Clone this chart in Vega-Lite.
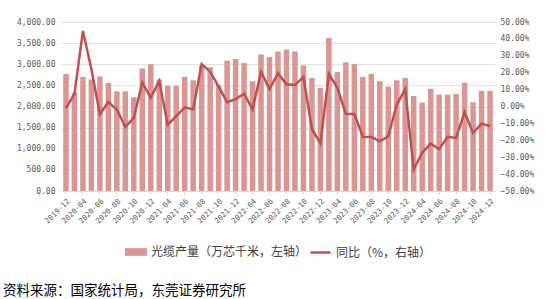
{
  "$schema": "https://vega.github.io/schema/vega-lite/v6.json",
  "width": 434,
  "height": 169,
  "autosize": {"type": "none"},
  "padding": {"left": 61, "top": 22, "right": 59, "bottom": 108},
  "background": "white",
  "config": {"view": {"stroke": null}, "font": "DejaVu Sans Mono"},
  "title": {
    "text": "资料来源：国家统计局，东莞证券研究所",
    "orient": "bottom",
    "anchor": "start",
    "frame": "group",
    "font": "Noto Sans CJK SC",
    "fontSize": 13.5,
    "fontWeight": "normal",
    "color": "#000000",
    "dx": -58,
    "offset": 25
  },
  "data": {
    "values": [
      {"month": "2019-12", "output": 2770, "yoy": -1.0},
      {"month": "2020-03", "output": 2330, "yoy": 7.4},
      {"month": "2020-04", "output": 2700, "yoy": 44.7},
      {"month": "2020-05", "output": 2640, "yoy": 22.0},
      {"month": "2020-06", "output": 2710, "yoy": -4.6},
      {"month": "2020-07", "output": 2560, "yoy": 2.7},
      {"month": "2020-08", "output": 2360, "yoy": -1.9},
      {"month": "2020-09", "output": 2360, "yoy": -12.0},
      {"month": "2020-10", "output": 2220, "yoy": -6.8},
      {"month": "2020-11", "output": 2900, "yoy": 14.2},
      {"month": "2020-12", "output": 3000, "yoy": 5.1},
      {"month": "2021-03", "output": 2640, "yoy": 15.1},
      {"month": "2021-04", "output": 2490, "yoy": -10.9},
      {"month": "2021-05", "output": 2490, "yoy": -5.7},
      {"month": "2021-06", "output": 2700, "yoy": -0.5},
      {"month": "2021-07", "output": 2620, "yoy": -1.7},
      {"month": "2021-08", "output": 2970, "yoy": 25.1},
      {"month": "2021-09", "output": 2930, "yoy": 20.6},
      {"month": "2021-10", "output": 2510, "yoy": 11.7},
      {"month": "2021-11", "output": 3085, "yoy": 2.5},
      {"month": "2021-12", "output": 3125, "yoy": 4.4},
      {"month": "2022-03", "output": 3030, "yoy": 7.6},
      {"month": "2022-04", "output": 2600, "yoy": -1.7},
      {"month": "2022-05", "output": 3230, "yoy": 20.6},
      {"month": "2022-06", "output": 3170, "yoy": 10.3},
      {"month": "2022-07", "output": 3300, "yoy": 19.6},
      {"month": "2022-08", "output": 3350, "yoy": 13.1},
      {"month": "2022-09", "output": 3300, "yoy": 12.7},
      {"month": "2022-10", "output": 2975, "yoy": 17.5},
      {"month": "2022-11", "output": 2675, "yoy": -13.3},
      {"month": "2022-12", "output": 2440, "yoy": -21.8},
      {"month": "2023-03", "output": 3620, "yoy": 19.2},
      {"month": "2023-04", "output": 2815, "yoy": 11.1},
      {"month": "2023-05", "output": 3050, "yoy": -4.4},
      {"month": "2023-06", "output": 3005, "yoy": -4.4},
      {"month": "2023-07", "output": 2700, "yoy": -17.9},
      {"month": "2023-08", "output": 2770, "yoy": -18.0},
      {"month": "2023-09", "output": 2600, "yoy": -20.6},
      {"month": "2023-10", "output": 2470, "yoy": -17.7},
      {"month": "2023-11", "output": 2620, "yoy": 1.0},
      {"month": "2023-12", "output": 2675, "yoy": 10.3},
      {"month": "2024-03", "output": 2250, "yoy": -37.4},
      {"month": "2024-04", "output": 2090, "yoy": -27.4},
      {"month": "2024-05", "output": 2420, "yoy": -22.0},
      {"month": "2024-06", "output": 2280, "yoy": -25.2},
      {"month": "2024-07", "output": 2280, "yoy": -17.9},
      {"month": "2024-08", "output": 2295, "yoy": -18.6},
      {"month": "2024-09", "output": 2565, "yoy": -3.3},
      {"month": "2024-10", "output": 2100, "yoy": -15.7},
      {"month": "2024-11", "output": 2370, "yoy": -10.2},
      {"month": "2024-12", "output": 2370, "yoy": -11.6}
    ]
  },
  "encoding": {
    "x": {
      "field": "month",
      "type": "ordinal",
      "sort": null,
      "scale": {"paddingInner": 0.35, "paddingOuter": 0.26},
      "axis": {
        "title": null,
        "values": ["2019-12", "2020-04", "2020-06", "2020-08", "2020-10", "2020-12", "2021-04", "2021-06", "2021-08", "2021-10", "2021-12", "2022-04", "2022-06", "2022-08", "2022-10", "2022-12", "2023-04", "2023-06", "2023-08", "2023-10", "2023-12", "2024-04", "2024-06", "2024-08", "2024-10", "2024-12"],
        "labelAngle": -45,
        "labelFontSize": 7.5,
        "labelColor": "#595959",
        "labelPadding": 3,
        "domainColor": "#d9d9d9",
        "tickColor": "#d9d9d9",
        "tickSize": 3,
        "grid": false
      }
    }
  },
  "layer": [
    {
      "mark": {"type": "bar"},
      "encoding": {
        "y": {
          "field": "output",
          "type": "quantitative",
          "scale": {"domain": [0, 4000]},
          "axis": {
            "title": null,
            "values": [0, 500, 1000, 1500, 2000, 2500, 3000, 3500, 4000],
            "format": ",.2f",
            "labelFontSize": 8,
            "labelColor": "#595959",
            "labelPadding": 6,
            "domain": false,
            "ticks": false,
            "grid": true,
            "gridColor": "#e3e3e3",
            "gridWidth": 1
          }
        },
        "fill": {
          "datum": "光缆产量（万芯千米，左轴）",
          "scale": {"range": ["#d99694"]},
          "legend": {
            "orient": "none",
            "legendX": 64,
            "legendY": 219,
            "title": null,
            "symbolType": "M-1,-0.35L1,-0.35L1,0.35L-1,0.35Z",
            "symbolSize": 484,
            "symbolStrokeWidth": 0,
            "labelFont": "Noto Sans CJK SC",
            "labelFontSize": 12,
            "labelColor": "#404040",
            "labelLimit": 300
          }
        }
      }
    },
    {
      "mark": {"type": "line", "strokeWidth": 2.5},
      "encoding": {
        "y": {
          "field": "yoy",
          "type": "quantitative",
          "scale": {"domain": [-50, 50]},
          "axis": {
            "title": null,
            "orient": "right",
            "values": [-50, -40, -30, -20, -10, 0, 10, 20, 30, 40, 50],
            "labelExpr": "format(datum.value, '.2f') + '%'",
            "labelFontSize": 8,
            "labelColor": "#595959",
            "labelPadding": 5,
            "domain": false,
            "ticks": false,
            "grid": false
          }
        },
        "stroke": {
          "datum": "同比（%，右轴）",
          "scale": {"range": ["#c0504d"]},
          "legend": {
            "orient": "none",
            "legendX": 248,
            "legendY": 219,
            "title": null,
            "symbolType": "stroke",
            "symbolSize": 400,
            "symbolStrokeWidth": 2.5,
            "labelFont": "Noto Sans CJK SC",
            "labelFontSize": 12,
            "labelColor": "#404040",
            "labelLimit": 300
          }
        }
      }
    }
  ],
  "resolve": {"scale": {"y": "independent"}}
}
